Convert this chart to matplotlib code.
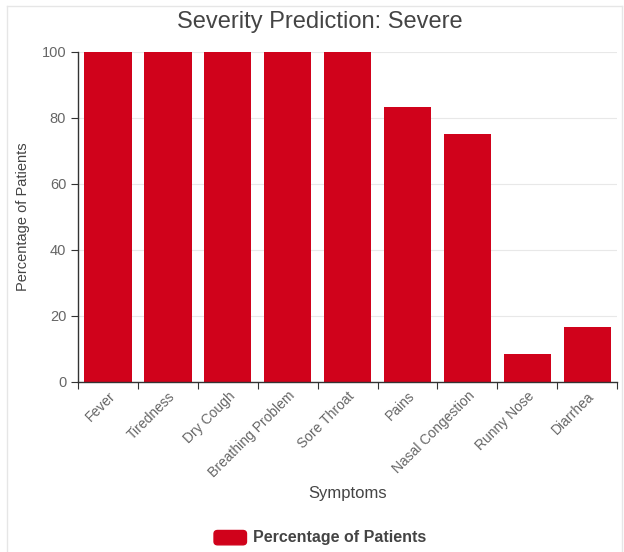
import numpy as np
import matplotlib.pyplot as plt
from matplotlib.patches import FancyBboxPatch
from matplotlib.lines import Line2D

symptoms = ['Fever', 'Tiredness', 'Dry Cough', 'Breathing Problem', 'Sore Throat',
            'Pains', 'Nasal Congestion', 'Runny Nose', 'Diarrhea']
percent = [100, 100, 100, 100, 100, 83.33, 75, 8.33, 16.67]

bar_color = '#d0021b'
text_color = '#666666'

plt.rcParams['font.family'] = ['Liberation Sans', 'DejaVu Sans']

fig = plt.figure(figsize=(6.24, 5.52), dpi=100)
ax = fig.add_axes([0.125, 0.308, 0.864, 0.598])

x = np.arange(len(symptoms))
ax.bar(x, percent, width=0.79, color=bar_color, zorder=2)

ax.set_xlim(-0.5, len(symptoms) - 0.5)
ax.set_ylim(0, 100)

# ticks sit between the bars, labels under the bar centres
ax.set_xticks(np.arange(-0.5, len(symptoms), 1))
ax.set_xticklabels([])
ax.set_xticks(x, minor=True)
ax.set_xticklabels(symptoms, minor=True, rotation=45, ha='right', rotation_mode='anchor',
                   fontsize=10, color=text_color)
ax.tick_params(axis='x', which='minor', length=0, pad=5)
ax.tick_params(axis='x', which='major', length=5, color='#333333')

ax.set_yticks([0, 20, 40, 60, 80, 100])
ax.tick_params(axis='y', length=5, color='#333333', labelsize=10.5, labelcolor=text_color)

ax.yaxis.grid(True, color='#e8e8e8', linewidth=0.8, zorder=0)
ax.set_axisbelow(True)
for side in ['top', 'right']:
    ax.spines[side].set_visible(False)
for side in ['left', 'bottom']:
    ax.spines[side].set_color('#333333')
    ax.spines[side].set_linewidth(1)

ax.set_ylabel('Percentage of Patients', fontsize=10.5, color='#444444', labelpad=8)
ax.set_xlabel('Symptoms', fontsize=12, color='#444444', labelpad=4)
fig.text(0.513, 0.96, 'Severity Prediction: Severe', ha='center', va='center',
         fontsize=17, color='#444444')

# legend entry drawn by hand: rounded swatch plus bold label
fig.patches.append(FancyBboxPatch((0.345, 0.015), 0.048, 0.022,
                                  boxstyle='round,pad=0.002,rounding_size=0.006',
                                  transform=fig.transFigure, color=bar_color))
fig.text(0.405, 0.027, 'Percentage of Patients', ha='left', va='center',
         fontsize=11.5, fontweight='bold', color='#444444')

# faint frame around the card (top, left, right)
for xs, ys in [([0.011, 0.996], [0.99, 0.99]), ([0.011, 0.011], [0.0, 0.99]),
               ([0.996, 0.996], [0.0, 0.99])]:
    fig.lines.append(Line2D(xs, ys, transform=fig.transFigure, color='#e6e6e6', linewidth=1))

fig.savefig('out.png', dpi=100)
